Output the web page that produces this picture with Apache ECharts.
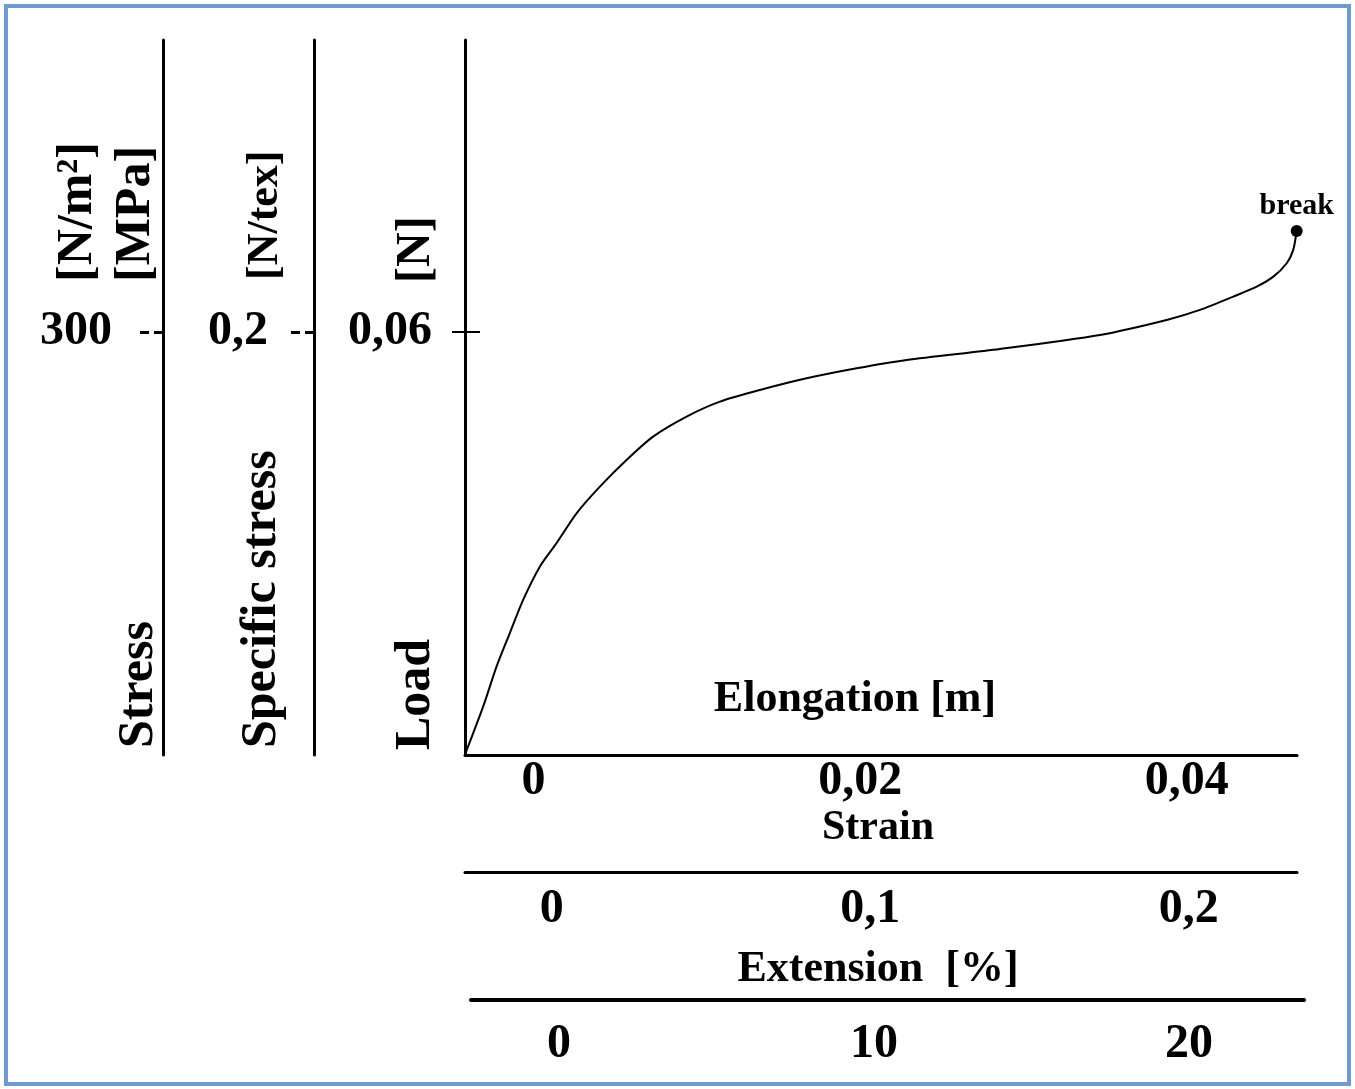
<!DOCTYPE html>
<html>
<head>
<meta charset="utf-8">
<title>Load - elongation curve</title>
<script src="https://cdn.jsdelivr.net/npm/echarts@6/dist/echarts.min.js"></script>
<style>
  html, body { margin: 0; padding: 0; background: #fff; }
  #chart { width: 1355px; height: 1089px; }
</style>
</head>
<body>
<div id="chart"></div>
<script>
// curve: elongation [m] vs load [N]
const elongation = [-0.00421, -0.00309, -0.00227, -0.00146, -0.00064, 0.00038, 0.00140, 0.00263,
  0.00406, 0.00569, 0.00732, 0.00937, 0.01141, 0.01386, 0.01672, 0.01978, 0.02284, 0.02856,
  0.03468, 0.03877, 0.04081, 0.04285, 0.04428, 0.04530, 0.04612, 0.04652, 0.04673];
const load = [0, 0.00685, 0.01253, 0.01726, 0.02199, 0.02671, 0.03003, 0.03428,
  0.03806, 0.04184, 0.04515, 0.04799, 0.05011, 0.05177, 0.05343, 0.05485, 0.05603, 0.05759,
  0.05957, 0.06170, 0.06312, 0.06501, 0.06642, 0.06784, 0.06974, 0.07163, 0.07432];
const breakPoint = [0.04673, 0.07432];

// tick labels
const elongationTicks = [0, 0.02, 0.04];
const strainTicks = [0, 0.1, 0.2];
const extensionTicks = [0, 10, 20];
const loadTicks = [0.06];
const specStressTicks = [0.2];
const stressTicks = [300];

const FONT = 'Liberation Serif';
const comma = v => String(v).replace('.', ',');

const labelStyle = (margin, size) => ({
  fontFamily: FONT, fontWeight: 'bold', fontSize: size, color: '#000', margin: margin
});

function bottomAxis(grid, min, max, ticks, margin, width) {
  return {
    type: 'value', gridIndex: grid, position: 'bottom', min: min, max: max,
    axisLine: { show: true, onZero: false, lineStyle: { color: '#000', width: width } },
    axisTick: { show: false },
    splitLine: { show: false },
    axisLabel: Object.assign(labelStyle(margin, 48), {
      customValues: ticks, verticalAlign: 'middle', formatter: comma
    })
  };
}

function leftAxis(offset, max, ticks, margin, tick) {
  return {
    type: 'value', gridIndex: 0, position: 'left', offset: offset, min: 0, max: max,
    axisLine: { show: true, onZero: false, lineStyle: { color: '#000', width: 3 } },
    axisTick: Object.assign({ show: true, customValues: ticks }, tick),
    splitLine: { show: false },
    axisLabel: Object.assign(labelStyle(margin, 48), { customValues: ticks, formatter: comma })
  };
}

function vText(text, x, y, size) {
  return {
    type: 'text', x: x, y: y, rotation: Math.PI / 2,
    style: { text: text, fontFamily: FONT, fontWeight: 'bold', fontSize: size, fill: '#000',
      align: 'left', verticalAlign: 'bottom' }
  };
}

function hText(text, x, y, size) {
  return {
    type: 'text', x: x, y: y,
    style: { text: text, fontFamily: FONT, fontWeight: 'bold', fontSize: size, fill: '#000',
      align: 'center', verticalAlign: 'middle' }
  };
}

const option = {
  backgroundColor: '#fff',
  animation: false,
  grid: [
    { left: 465, top: 40, width: 832, height: 715 },
    { left: 465, top: 860, width: 832, height: 12 },
    { left: 471, top: 988, width: 833, height: 12 }
  ],
  xAxis: [
    bottomAxis(0, -0.0042, 0.04675, elongationTicks, 27, 3),
    bottomAxis(1, -0.02725, 0.23397, strainTicks, 38, 3),
    bottomAxis(2, -2.794, 23.65, extensionTicks, 45, 4)
  ],
  yAxis: [
    leftAxis(0, 0.1014, loadTicks, 33, { length: 13, lineStyle: { color: '#000', width: 2 } }),
    leftAxis(151, 0.3381, specStressTicks, 46,
      { length: 27, lineStyle: { color: '#000', width: 3, type: [9, 5] } }),
    leftAxis(302, 507.1, stressTicks, 51,
      { length: 27, lineStyle: { color: '#000', width: 3, type: [9, 5] } }),
    // inner half of the load tick
    {
      type: 'value', gridIndex: 0, position: 'left', min: 0, max: 0.1014,
      axisLine: { show: false, onZero: false },
      axisTick: { show: true, inside: true, length: 15, customValues: loadTicks,
        lineStyle: { color: '#000', width: 2 } },
      axisLabel: { show: false },
      splitLine: { show: false }
    },
    { type: 'value', gridIndex: 1, show: false, min: 0, max: 1 },
    { type: 'value', gridIndex: 2, show: false, min: 0, max: 1 }
  ],
  graphic: [
    { type: 'rect', shape: { x: 6, y: 6, width: 1343, height: 1078 },
      style: { fill: 'none', stroke: '#6f9ad0', lineWidth: 4 } },
    vText('[N/m²]', 103, 282, 50),
    vText('[MPa]', 161, 282, 50),
    vText('[N/tex]', 288, 280, 44),
    vText('[N]', 441, 283, 48),
    vText('Stress', 164, 748, 50),
    vText('Specific stress', 287, 748, 50),
    vText('Load', 441, 750, 50),
    hText('Elongation [m]', 855, 700, 44),
    hText('Strain', 878, 828, 42),
    hText('Extension  [%]', 878, 970, 44)
  ],
  series: [
    {
      type: 'line', xAxisIndex: 0, yAxisIndex: 0, clip: false,
      data: elongation.map((x, i) => [x, load[i]]),
      smooth: 0.25, showSymbol: false, symbol: 'none',
      lineStyle: { color: '#000', width: 2 }
    },
    {
      type: 'scatter', xAxisIndex: 0, yAxisIndex: 0, clip: false,
      data: [breakPoint], symbolSize: 12,
      itemStyle: { color: '#000', opacity: 1 },
      label: { show: true, position: 'top', distance: 4, formatter: 'break',
        fontFamily: FONT, fontWeight: 'bold', fontSize: 30, color: '#000' }
    }
  ]
};

const chart = echarts.init(document.getElementById('chart'), null, { renderer: 'canvas' });
chart.setOption(option);
</script>
</body>
</html>
